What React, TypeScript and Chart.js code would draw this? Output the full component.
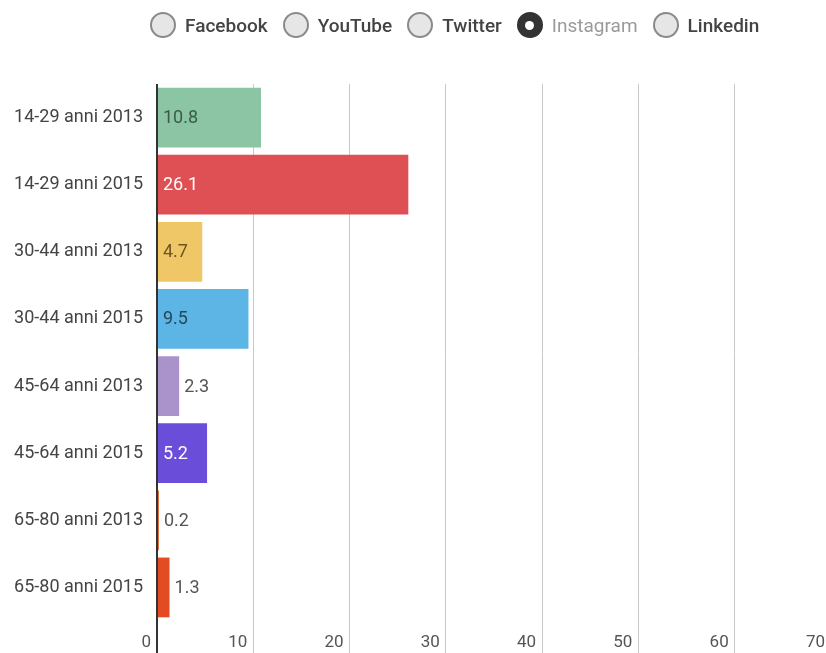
import React, { useEffect, useRef } from "react";
import { Chart, registerables } from "chart.js";

Chart.register(...registerables);

const categories = [
  "14-29 anni 2013",
  "14-29 anni 2015",
  "30-44 anni 2013",
  "30-44 anni 2015",
  "45-64 anni 2013",
  "45-64 anni 2015",
  "65-80 anni 2013",
  "65-80 anni 2015",
];
const values = [10.8, 26.1, 4.7, 9.5, 2.3, 5.2, 0.2, 1.3];
const barColors = [
  "#8bc5a3",
  "#de5053",
  "#efc766",
  "#5cb5e5",
  "#aa92ca",
  "#6a4dd8",
  "#e0662d",
  "#e34c22",
];
const insideLabelColors = [
  "#3d5a49",
  "#ffffff",
  "#6b5624",
  "#24475c",
  "#ffffff",
  "#ffffff",
  "#ffffff",
  "#ffffff",
];
const xMin = 0;
const xMax = 70;
const xStep = 10;
const legendItems = ["Facebook", "YouTube", "Twitter", "Instagram", "Linkedin"];
const selectedLegend = "Instagram";

const FONT = "Roboto, 'Noto Sans', sans-serif";

const valueLabelPlugin = {
  id: "valueLabels",
  afterDatasetsDraw(chart: any) {
    const ctx = chart.ctx;
    const meta = chart.getDatasetMeta(0);
    ctx.save();
    ctx.font = `18px ${FONT}`;
    ctx.textBaseline = "middle";
    ctx.textAlign = "left";
    meta.data.forEach((bar: any, i: number) => {
      const text = String(values[i]);
      const tw = ctx.measureText(text).width;
      const w = Math.abs(bar.x - bar.base);
      if (w >= tw + 10) {
        ctx.fillStyle = insideLabelColors[i];
        ctx.fillText(text, bar.base + 5, bar.y + 1);
      } else {
        ctx.fillStyle = "#555555";
        ctx.fillText(text, bar.x + 5, bar.y + 1);
      }
    });
    ctx.restore();
  },
};

function Legend() {
  return (
    <div
      style={{
        position: "absolute",
        left: 150,
        top: 12,
        display: "flex",
        alignItems: "center",
        fontFamily: FONT,
        fontSize: 19,
        fontWeight: 500,
      }}
    >
      {legendItems.map((name) => {
        const sel = name === selectedLegend;
        return (
          <div
            key={name}
            style={{ display: "flex", alignItems: "center", marginRight: 15 }}
          >
            <div
              style={{
                width: sel ? 26 : 22,
                height: sel ? 26 : 22,
                borderRadius: "50%",
                boxSizing: "content-box",
                background: sel ? "#333333" : "#e6e6e6",
                border: sel ? "0px solid #333" : "2px solid #8a8a8a",
                display: "flex",
                alignItems: "center",
                justifyContent: "center",
              }}
            >
              {sel ? (
                <div
                  style={{
                    width: 9,
                    height: 9,
                    borderRadius: "50%",
                    background: "#ffffff",
                  }}
                />
              ) : null}
            </div>
            <span
              style={{
                marginLeft: 9,
                color: sel ? "#9a9a9a" : "#444444",
                fontWeight: sel ? 400 : 500,
              }}
            >
              {name}
            </span>
          </div>
        );
      })}
    </div>
  );
}

export default function App() {
  const canvasRef = useRef<HTMLCanvasElement | null>(null);

  useEffect(() => {
    if (!canvasRef.current) return;
    const chart = new Chart(canvasRef.current, {
      type: "bar",
      data: {
        labels: categories,
        datasets: [
          {
            data: values,
            backgroundColor: barColors,
            borderWidth: 0,
            barPercentage: 0.89,
            categoryPercentage: 1,
          },
        ],
      },
      options: {
        indexAxis: "y",
        animation: false,
        responsive: false,
        maintainAspectRatio: false,
        layout: { padding: { top: 84, right: 19, bottom: 0, left: 0 } },
        plugins: {
          legend: { display: false },
          tooltip: { enabled: false },
        },
        scales: {
          x: {
            min: xMin,
            max: xMax,
            border: { display: false },
            grid: {
              drawTicks: true,
              tickLength: 33,
              color: (c: any) => (c.tick && c.tick.value === 0 ? "#333333" : "#c8c8c8"),
              lineWidth: (c: any) => (c.tick && c.tick.value === 0 ? 2 : 1),
            },
            ticks: {
              stepSize: xStep,
              align: "end",
              labelOffset: -6,
              padding: -21,
              color: "#555555",
              font: { family: FONT, size: 17 },
              maxRotation: 0,
            },
            afterFit: (scale: any) => {
              scale.height = 32;
            },
          },
          y: {
            border: { display: false },
            grid: { display: false, drawTicks: false },
            ticks: {
              padding: 14,
              color: "#444444",
              font: { family: FONT, size: 18 },
            },
            afterFit: (scale: any) => {
              scale.width = 157;
            },
          },
        },
      },
      plugins: [valueLabelPlugin],
    } as any);
    return () => chart.destroy();
  }, []);

  return (
    <div
      style={{
        position: "fixed",
        left: 0,
        top: 0,
        width: 826,
        height: 653,
        overflow: "hidden",
        background: "#ffffff",
      }}
    >
      <canvas
        ref={canvasRef}
        width={850}
        height={653}
        style={{ position: "absolute", left: 0, top: 0, width: 850, height: 653 }}
      />
      <Legend />
    </div>
  );
}
